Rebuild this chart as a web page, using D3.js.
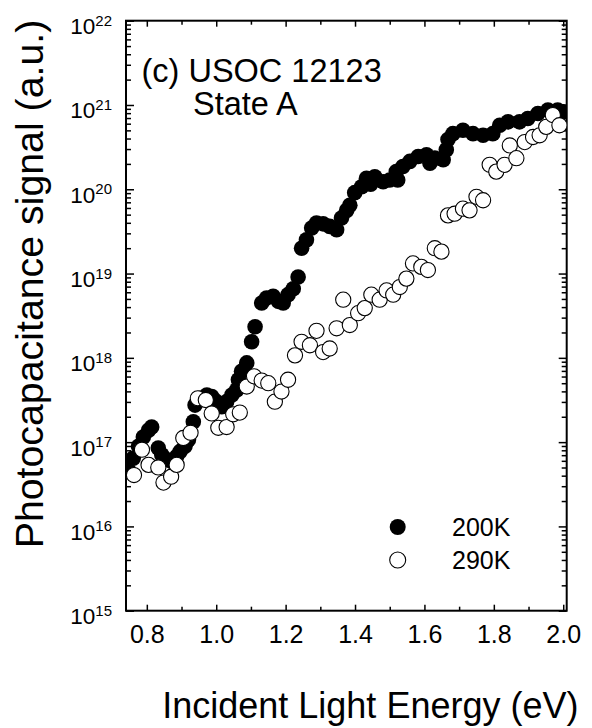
<!DOCTYPE html>
<html>
<head>
<meta charset="utf-8">
<script src="https://cdn.jsdelivr.net/npm/d3@7"></script>
<style>
  body { margin: 0; background: #fff; }
  svg { display: block; }
  text { font-family: "Liberation Sans", Arial, Helvetica, sans-serif; fill: #000; }
</style>
</head>
<body>
<svg id="chart" width="592" height="728"></svg>
<script>
// Photocapacitance spectra, sample USOC 12123, state A
const energy200 = [0.747, 0.761, 0.776, 0.790, 0.805, 0.814, 0.833, 0.843, 0.858, 0.872,
  0.886, 0.896, 0.910, 0.920, 0.934, 0.939, 0.953, 0.973, 0.987, 1.001,
  1.016, 1.030, 1.045, 1.059, 1.064, 1.073, 1.088, 1.102, 1.112, 1.131,
  1.145, 1.164, 1.179, 1.193, 1.207, 1.222, 1.236, 1.246, 1.260, 1.275,
  1.289, 1.308, 1.327, 1.347, 1.361, 1.376, 1.385, 1.399, 1.419, 1.433,
  1.445, 1.457, 1.481, 1.500, 1.519, 1.523, 1.538, 1.558, 1.582, 1.606,
  1.616, 1.630, 1.654, 1.663, 1.668, 1.682, 1.711, 1.740, 1.769, 1.797,
  1.817, 1.841, 1.874, 1.898, 1.927, 1.956, 1.984, 2.001];
const signal200 = [4.68e16, 6.46e16, 8.91e16, 1.15e17, 1.38e17, 1.51e17, 8.51e16, 7.08e16, 6.17e16, 5.89e16,
  6.76e16, 7.76e16, 8.91e16, 1.07e17, 1.74e17, 2.75e17, 3.31e17, 3.63e17, 3.47e17, 3.02e17,
  2.63e17, 3.02e17, 3.63e17, 4.17e17, 5.50e17, 6.92e17, 8.71e17, 1.55e18, 2.34e18, 4.47e18,
  5.13e18, 5.37e18, 4.68e18, 4.47e18, 5.62e18, 6.61e18, 9.12e18, 2.00e19, 2.51e19, 3.47e19,
  3.98e19, 3.89e19, 3.63e19, 3.31e19, 4.57e19, 5.62e19, 6.46e19, 9.12e19, 1.07e20, 1.35e20,
  1.15e20, 1.41e20, 1.23e20, 1.29e20, 1.62e20, 1.29e20, 1.86e20, 2.14e20, 2.45e20, 2.57e20,
  2.04e20, 2.34e20, 2.24e20, 2.95e20, 3.89e20, 4.57e20, 5.01e20, 4.57e20, 4.37e20, 4.57e20,
  5.75e20, 6.31e20, 6.31e20, 6.92e20, 7.94e20, 8.71e20, 8.71e20, 8.32e20];

const energy290 = [0.763, 0.786, 0.805, 0.833, 0.848, 0.870, 0.886, 0.905, 0.926, 0.947,
  0.970, 0.987, 1.006, 1.030, 1.049, 1.068, 1.088, 1.109, 1.131, 1.150,
  1.169, 1.188, 1.207, 1.227, 1.246, 1.270, 1.289, 1.308, 1.327, 1.347,
  1.366, 1.385, 1.409, 1.428, 1.447, 1.471, 1.491, 1.510, 1.529, 1.548,
  1.567, 1.591, 1.610, 1.630, 1.649, 1.668, 1.687, 1.711, 1.730, 1.750,
  1.769, 1.788, 1.807, 1.831, 1.846, 1.865, 1.889, 1.913, 1.932, 1.951,
  1.970, 1.989];
const signal290 = [4.07e16, 8.13e16, 5.37e16, 5.01e16, 3.31e16, 3.89e16, 5.37e16, 1.12e17, 1.29e17, 3.31e17,
  3.16e17, 2.19e17, 1.48e17, 1.51e17, 2.14e17, 2.24e17, 4.57e17, 6.03e17, 5.37e17, 5.01e17,
  3.02e17, 3.98e17, 5.50e17, 1.07e18, 1.55e18, 1.41e18, 2.09e18, 1.17e18, 1.29e18, 2.24e18,
  4.90e18, 2.45e18, 3.39e18, 3.89e18, 5.62e18, 4.90e18, 6.31e18, 5.62e18, 6.92e18, 8.71e18,
  1.32e19, 1.20e19, 1.10e19, 2.00e19, 1.82e19, 4.90e19, 5.13e19, 5.89e19, 5.62e19, 8.13e19,
  7.41e19, 1.95e20, 1.62e20, 1.95e20, 3.31e20, 2.34e20, 3.63e20, 4.17e20, 4.37e20, 5.50e20,
  7.59e20, 5.75e20];

const xMajorTicks = [0.8, 1.0, 1.2, 1.4, 1.6, 1.8, 2.0];
const xMinorTicks = [0.9, 1.1, 1.3, 1.5, 1.7, 1.9];
const yDecades = [15, 16, 17, 18, 19, 20, 21, 22];
const seriesLabels = ["200K", "290K"];
const titleLines = ["(c) USOC 12123", "State A"];
const xTitle = "Incident Light Energy (eV)";
const yTitle = "Photocapacitance signal (a.u.)";

const svg = d3.select("#chart");
const plot = { left: 126, right: 566.7, top: 20.7, bottom: 610.7 };

const x = d3.scaleLinear().domain([0.74, 2.01]).range([plot.left, plot.right]);
const y = d3.scaleLog().domain([1e15, 1e22]).range([plot.bottom, plot.top]);

const majorY = yDecades.map(d => Math.pow(10, d));
const minorY = y.ticks().filter(v => !majorY.some(m => Math.abs(v / m - 1) < 1e-9));

// clip region for the markers
svg.append("defs").append("clipPath").attr("id", "plotClip")
  .append("rect")
  .attr("x", plot.left).attr("y", plot.top)
  .attr("width", plot.right - plot.left).attr("height", plot.bottom - plot.top);

function styleAxis(g) {
  g.select(".domain").remove();
  g.selectAll(".tick line").attr("stroke", "#000").attr("stroke-width", 1.5);
}

// bottom axis with labels
svg.append("g").attr("transform", `translate(0,${plot.bottom})`)
  .call(d3.axisBottom(x).tickValues(xMajorTicks).tickSizeInner(-6).tickSizeOuter(0)
    .tickPadding(14.5).tickFormat(d3.format(".1f")))
  .call(styleAxis)
  .call(g => g.selectAll(".tick text").attr("font-size", 25)
    .attr("font-family", "'Liberation Sans', Arial, sans-serif"));
svg.append("g").attr("transform", `translate(0,${plot.bottom})`)
  .call(d3.axisBottom(x).tickValues(xMinorTicks).tickSizeInner(-4).tickSizeOuter(0).tickFormat(""))
  .call(styleAxis);
// top axis, ticks only
svg.append("g").attr("transform", `translate(0,${plot.top})`)
  .call(d3.axisTop(x).tickValues(xMajorTicks).tickSizeInner(-6).tickSizeOuter(0).tickFormat(""))
  .call(styleAxis);
svg.append("g").attr("transform", `translate(0,${plot.top})`)
  .call(d3.axisTop(x).tickValues(xMinorTicks).tickSizeInner(-4).tickSizeOuter(0).tickFormat(""))
  .call(styleAxis);

// left axis
svg.append("g").attr("transform", `translate(${plot.left},0)`)
  .call(d3.axisLeft(y).tickValues(minorY).tickSizeInner(-5).tickSizeOuter(0).tickFormat(""))
  .call(styleAxis);
const leftMajor = svg.append("g").attr("transform", `translate(${plot.left},0)`)
  .call(d3.axisLeft(y).tickValues(majorY).tickSizeInner(-8).tickSizeOuter(0).tickFormat(""))
  .call(styleAxis);
// right axis
svg.append("g").attr("transform", `translate(${plot.right},0)`)
  .call(d3.axisRight(y).tickValues(minorY).tickSizeInner(-5).tickSizeOuter(0).tickFormat(""))
  .call(styleAxis);
svg.append("g").attr("transform", `translate(${plot.right},0)`)
  .call(d3.axisRight(y).tickValues(majorY).tickSizeInner(-8).tickSizeOuter(0).tickFormat(""))
  .call(styleAxis);

// power-of-ten labels
leftMajor.selectAll(".tick").each(function(d) {
  const exp = Math.round(Math.log10(d));
  const t = d3.select(this).append("text")
    .attr("x", 112 - plot.left).attr("y", 13)
    .attr("text-anchor", "end").attr("fill", "#000");
  t.append("tspan").attr("font-size", 22.5).text("10");
  t.append("tspan").attr("font-size", 15).attr("dy", -8.5).text(exp);
});

// frame
svg.append("rect")
  .attr("x", plot.left).attr("y", plot.top)
  .attr("width", plot.right - plot.left).attr("height", plot.bottom - plot.top)
  .attr("fill", "none").attr("stroke", "#000").attr("stroke-width", 2);

// markers
const data200 = energy200.map((e, i) => ({ e, s: signal200[i] }));
const data290 = energy290.map((e, i) => ({ e, s: signal290[i] }));
const marks = svg.append("g").attr("clip-path", "url(#plotClip)");
marks.selectAll("circle.s200").data(data200).join("circle")
  .attr("class", "s200")
  .attr("cx", d => x(d.e)).attr("cy", d => y(d.s)).attr("r", 7.8)
  .attr("fill", "#000");
marks.selectAll("circle.s290").data(data290).join("circle")
  .attr("class", "s290")
  .attr("cx", d => x(d.e)).attr("cy", d => y(d.s)).attr("r", 7.6)
  .attr("fill", "#fff").attr("stroke", "#000").attr("stroke-width", 1.1);

// panel label
const label = svg.append("text").attr("font-size", 32.5);
label.append("tspan").attr("x", 141.5).attr("y", 82).text(titleLines[0]);
label.append("tspan").attr("x", 193).attr("y", 115).text(titleLines[1]);

// legend
const legend = svg.append("g");
seriesLabels.forEach((name, i) => {
  const cy = 527 + i * 33;
  legend.append("circle").attr("cx", 397.7).attr("cy", cy).attr("r", 8)
    .attr("fill", i === 0 ? "#000" : "#fff").attr("stroke", "#000").attr("stroke-width", i === 0 ? 0 : 1.1);
  legend.append("text").attr("x", 452).attr("y", cy + 8.5).attr("font-size", 25).text(name);
});

// axis titles
svg.append("text").attr("x", (plot.left + plot.right) / 2 + 24).attr("y", 717.5)
  .attr("text-anchor", "middle").attr("font-size", 36).text(xTitle);
svg.append("text").attr("transform", "translate(43,284) rotate(-90)")
  .attr("text-anchor", "middle").attr("font-size", 39.3).text(yTitle);
</script>
</body>
</html>
